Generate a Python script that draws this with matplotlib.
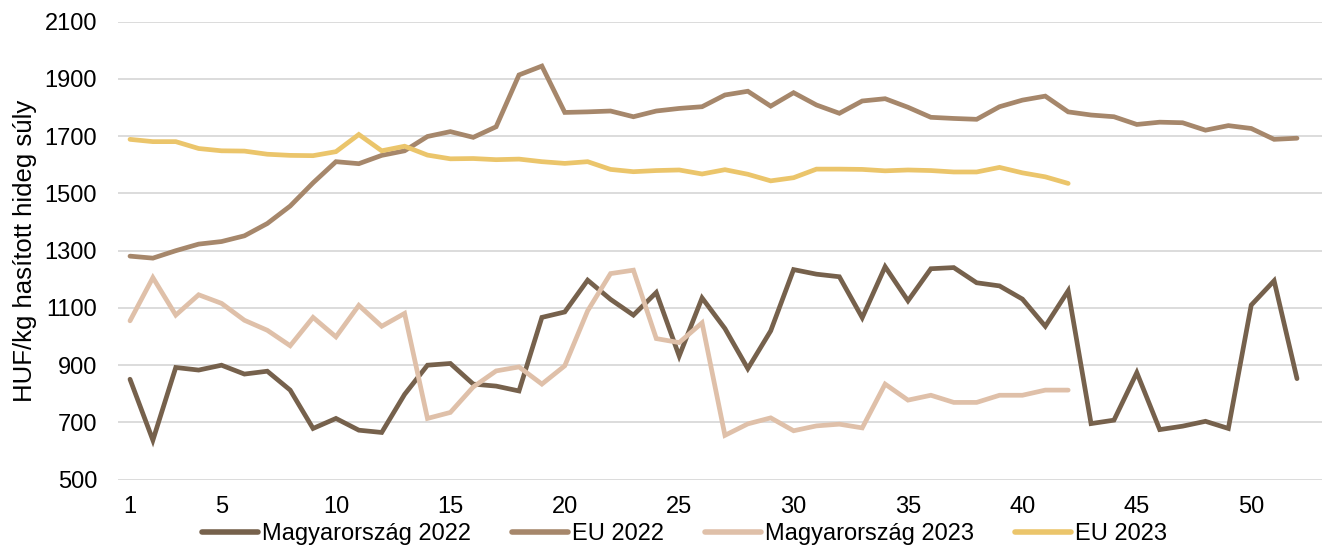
import numpy as np
import matplotlib.pyplot as plt

plt.rcParams['font.family'] = ['Liberation Sans', 'DejaVu Sans']

weeks_2022 = list(range(1, 53))
weeks_2023 = list(range(1, 43))

hu_2022 = [851, 638, 892, 883, 900, 869, 879, 813, 679, 714,
           673, 665, 798, 900, 906, 834, 827, 810, 1067, 1086,
           1197, 1130, 1075, 1154, 932, 1135, 1028, 888, 1020, 1234,
           1218, 1209, 1066, 1244, 1125, 1237, 1241, 1188, 1177, 1131,
           1036, 1160, 696, 708, 874, 675, 687, 704, 679, 1110,
           1195, 853]

eu_2022 = [1281, 1274, 1300, 1323, 1332, 1352, 1395, 1456, 1537, 1611,
           1604, 1633, 1649, 1699, 1716, 1696, 1733, 1914, 1945, 1783,
           1785, 1788, 1768, 1788, 1797, 1803, 1844, 1857, 1805, 1852,
           1809, 1780, 1823, 1831, 1801, 1766, 1762, 1759, 1803, 1826,
           1840, 1785, 1774, 1768, 1741, 1749, 1747, 1721, 1737, 1727,
           1689, 1693]

hu_2023 = [1055, 1206, 1075, 1146, 1116, 1057, 1022, 968, 1067, 999,
           1109, 1036, 1081, 714, 735, 824, 880, 894, 834, 898,
           1090, 1220, 1232, 993, 979, 1048, 655, 695, 716, 671,
           688, 694, 681, 834, 778, 795, 770, 770, 795, 795,
           813, 813]

eu_2023 = [1689, 1681, 1681, 1657, 1649, 1648, 1637, 1633, 1632, 1646,
           1706, 1649, 1665, 1634, 1621, 1622, 1618, 1620, 1611, 1605,
           1611, 1584, 1576, 1580, 1582, 1568, 1583, 1567, 1544, 1555,
           1585, 1585, 1584, 1579, 1582, 1580, 1575, 1575, 1591, 1572,
           1558, 1535]

series = [
    ('Magyarország 2022', weeks_2022, hu_2022, '#76614c'),
    ('EU 2022', weeks_2022, eu_2022, '#a6876b'),
    ('Magyarország 2023', weeks_2023, hu_2023, '#dfc0a9'),
    ('EU 2023', weeks_2023, eu_2023, '#ebc56b'),
]

fig = plt.figure(figsize=(13.22, 5.47), dpi=100)
ax = fig.add_axes([118 / 1322, 67.3 / 547, 1 - 118 / 1322, 458 / 547])

for name, x, y, color in series:
    ax.plot(x, y, color=color, lw=3.4, label=name, solid_capstyle='round',
            solid_joinstyle='miter')

ax.set_xlim(1 - 12 / 22.88, 52 + 25 / 22.88)
ax.set_ylim(500, 2100)
ax.set_yticks(np.arange(500, 2101, 200))
ax.set_xticks([1, 5, 10, 15, 20, 25, 30, 35, 40, 45, 50])
ax.grid(axis='y', color='#d9d9d9', lw=1.3)
ax.set_axisbelow(True)
for s in ax.spines.values():
    s.set_visible(False)
ax.tick_params(length=0, labelsize=17, colors='black')
ax.tick_params(axis='y', pad=15)
ax.tick_params(axis='x', pad=12)
ax.set_ylabel('HUF/kg hasított hideg súly', fontsize=18.5)
ax.yaxis.set_label_coords(-0.067, 0.5)

leg = fig.legend(loc='center', bbox_to_anchor=(0.518, 0.024), ncol=4,
                 frameon=False, fontsize=17, handlelength=2.37,
                 columnspacing=1.74, handletextpad=0.17)
for line in leg.get_lines():
    line.set_linewidth(4)

fig.savefig('out.png', dpi=100)
